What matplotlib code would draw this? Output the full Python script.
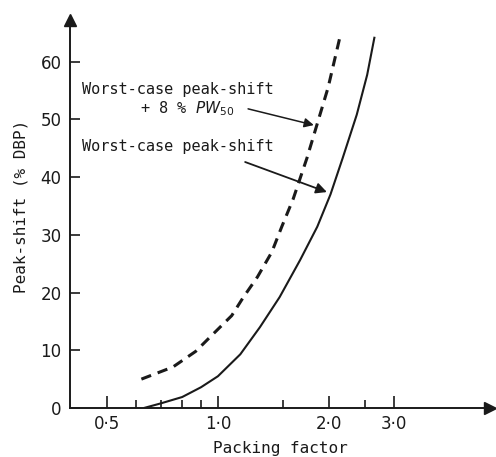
import matplotlib
matplotlib.use("Agg")
import matplotlib.pyplot as plt
from matplotlib.ticker import FixedLocator, NullFormatter

# Data
solid_x = [0.63, 0.70, 0.80, 0.90, 1.0, 1.15, 1.30, 1.47, 1.67, 1.86, 2.02, 2.18, 2.38, 2.54, 2.66]
solid_y = [0.0, 0.8, 1.9, 3.6, 5.5, 9.3, 14.0, 19.2, 25.6, 31.4, 37.0, 43.3, 50.8, 57.7, 64.3]
dashed_x = [0.62, 0.755, 0.87, 0.97, 1.09, 1.17, 1.28, 1.40, 1.49, 1.60, 1.744, 1.867, 1.99, 2.14]
dashed_y = [5.0, 7.1, 9.8, 12.8, 16.0, 19.1, 22.7, 27.0, 31.4, 36.2, 43.3, 49.6, 55.5, 64.1]
x_major = [0.5, 1.0, 2.0, 3.0]
x_major_labels = ["0·5", "1·0", "2·0", "3·0"]
x_minor = [0.6, 0.7, 0.8, 0.9, 1.5, 2.5]
y_ticks = [0, 10, 20, 30, 40, 50, 60]

plt.rcParams['font.family'] = ['DejaVu Sans']
fig = plt.figure(figsize=(4.96, 4.57), dpi=100)
ax = fig.add_axes([70/496, 1-408/457, 420/496, 388/457])

col = '#1a1a1a'
ax.plot(solid_x, solid_y, color=col, lw=1.5, solid_capstyle='butt', solid_joinstyle='round')
ax.plot(dashed_x, dashed_y, color=col, lw=2.2, dashes=(3.4, 2.3), dash_capstyle='butt')

ax.set_xscale('log')
ax.set_xlim(0.397, 5.47)
ax.set_ylim(0, 67.2)

ax.xaxis.set_major_locator(FixedLocator(x_major))
ax.set_xticklabels(x_major_labels)
ax.xaxis.set_minor_locator(FixedLocator(x_minor))
ax.xaxis.set_minor_formatter(NullFormatter())
ax.set_yticks(y_ticks)

for s in ['top', 'right']:
    ax.spines[s].set_visible(False)
for s in ['left', 'bottom']:
    ax.spines[s].set_linewidth(1.4)
    ax.spines[s].set_color(col)

ax.tick_params(axis='x', which='major', direction='in', length=9, width=1.2, colors=col,
               labelsize=12, pad=5)
ax.tick_params(axis='x', which='minor', direction='in', length=6, width=1.2, colors=col)
ax.tick_params(axis='y', which='major', direction='in', length=7, width=1.2, colors=col,
               labelsize=12, pad=6)

# axis arrowheads
ax.plot(1, 0, '>', color=col, markersize=9, transform=ax.transAxes, clip_on=False)
ax.plot(0, 1, '^', color=col, markersize=9, transform=ax.transAxes, clip_on=False)

mono = ['DejaVu Sans Mono', 'DejaVu Sans']
ax.set_xlabel('Packing factor', fontsize=11.5, labelpad=6, color=col, family=mono)
ax.set_ylabel('Peak-shift (% DBP)', fontsize=11.5, labelpad=12, color=col, family=mono)
ax.yaxis.set_label_coords(-0.098, 0.52)

tkw = dict(fontsize=11, color=col, transform=ax.transAxes, va='center', family=mono)
ax.text(0.029, 0.822, 'Worst-case peak-shift', ha='left', **tkw)
ax.text(0.279, 0.771, '+ 8 % $PW_{50}$', ha='center', **tkw)
ax.text(0.029, 0.673, 'Worst-case peak-shift', ha='left', **tkw)

ax.annotate('', xy=(1.82, 49.0), xytext=(0.424, 0.771), textcoords='axes fraction',
            arrowprops=dict(arrowstyle='-|>', color=col, lw=1.1, mutation_scale=14,
                            shrinkA=0, shrinkB=0))
ax.annotate('', xy=(1.975, 37.4), xytext=(0.417, 0.634), textcoords='axes fraction',
            arrowprops=dict(arrowstyle='-|>', color=col, lw=1.3, mutation_scale=16,
                            shrinkA=0, shrinkB=0))

fig.savefig('out.png', dpi=100)
